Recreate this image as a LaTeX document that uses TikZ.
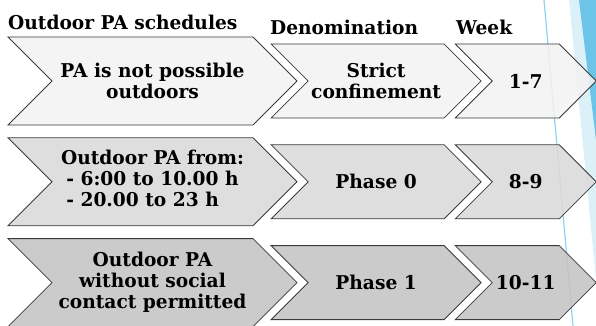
\documentclass[tikz,border=0pt]{standalone}
\usepackage{fontspec}
\setmainfont{DejaVu Serif}[FakeStretch=0.98]
\usetikzlibrary{shapes.symbols}
\usetikzlibrary{positioning}

\definecolor{rowA}{HTML}{F2F2F2}
\definecolor{rowB}{HTML}{DADADA}
\definecolor{rowC}{HTML}{C4C4C4}
\definecolor{chevline}{HTML}{3A3A3A}
\definecolor{bandlight}{HTML}{DCF0F8}
\definecolor{banddark}{HTML}{6CC5E8}
\definecolor{bandline}{HTML}{8FD3F0}

\begin{document}
\begin{tikzpicture}[
                x=1pt, y=-1pt,
                node distance=12pt and 10pt,
                every node/.style={font=\rmfamily\bfseries\fontsize{19}{21}\selectfont, align=center},
                chevron/.style={signal, signal from=west, signal to=east, draw=chevline, line width=0.8pt,
                                inner sep=1pt, minimum height=74pt, fill opacity=0.88, text opacity=1},
                wide/.style={minimum height=88pt, minimum width=289pt}
            ]
            \useasboundingbox (0,0) rectangle (596,326);

            % Slide decoration on the right
            \fill[bandlight] (569,0) -- (596,0) -- (596,280) -- cycle;
            \fill[banddark] (579,0) -- (596,0) -- (596,140) -- cycle;
            \draw[bandline, line width=1.2pt] (544,0) -- (573,326);

            % Column headers
            \node[anchor=base west, inner sep=0pt] (hsched) at (8,30) {Outdoor PA schedules};
            \node[anchor=base west, inner sep=0pt] (hdenom) at (270,35) {Denomination};
            \node[anchor=base west, inner sep=0pt] (hweek) at (456,35) {Week};

            % Row 1
            \node[chevron, wide, fill=rowA] (sched1) at (152.5,81) {PA is not possible\\outdoors};
            \node[chevron, minimum width=210pt, fill=rowA, right=of sched1] (denom1) {Strict\\confinement};
            \node[chevron, minimum width=141pt, fill=rowA, right=of denom1] (week1) {1-7};

            % Row 2
            \node[chevron, wide, fill=rowB, below=of sched1] (sched2)
                {Outdoor PA from:\\\begin{tabular}[t]{@{}l@{}}- 6:00 to 10.00 h\\- 20.00 to 23 h\end{tabular}};
            \node[chevron, minimum width=210pt, fill=rowB, right=of sched2] (denom2) {Phase 0};
            \node[chevron, minimum width=141pt, fill=rowB, right=of denom2] (week2) {8-9};

            % Row 3
            \node[chevron, wide, fill=rowC, below=of sched2] (sched3) {Outdoor PA\\without social\\contact permitted};
            \node[chevron, minimum width=210pt, fill=rowC, right=of sched3] (denom3) {Phase 1};
            \node[chevron, minimum width=141pt, fill=rowC, right=of denom3] (week3) {10-11};

        \end{tikzpicture}
\end{document}
